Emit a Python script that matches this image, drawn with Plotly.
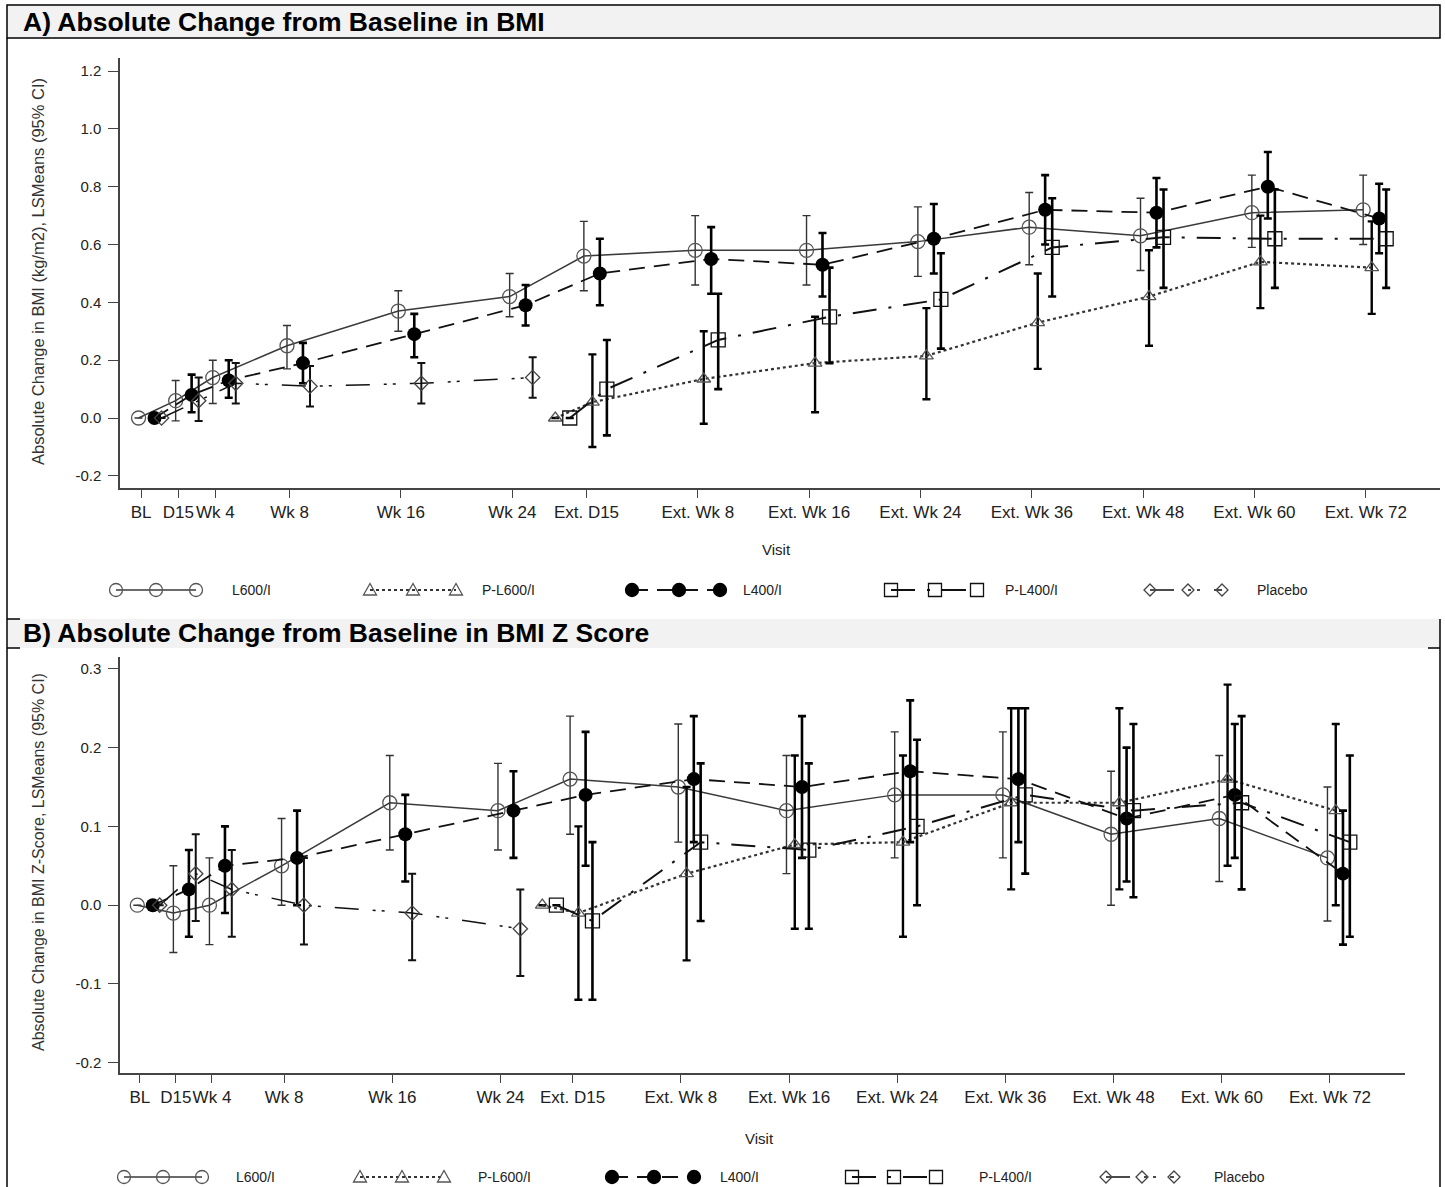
import plotly.graph_objects as go

W, H = 1445, 1187

# ---------------- data ----------------
visit_labels = ["BL", "D15", "Wk 4", "Wk 8", "Wk 16", "Wk 24", "Ext. D15", "Ext. Wk 8",
                "Ext. Wk 16", "Ext. Wk 24", "Ext. Wk 36", "Ext. Wk 48", "Ext. Wk 60", "Ext. Wk 72"]
visit_pos = [0, 1, 2, 4, 7, 10, 12, 15, 18, 21, 24, 27, 30, 33]
placebo_pos = visit_pos[:6]
p_bl_pos = 11                      # extension baseline of the P- groups (no tick label)
p_pos = [p_bl_pos] + visit_pos[6:]

groups = ["L600/I", "P-L600/I", "L400/I", "P-L400/I", "Placebo"]

# Panel A: absolute change in BMI
a_l600_mean = [0, 0.06, 0.14, 0.25, 0.37, 0.42, 0.56, 0.58, 0.58, 0.61, 0.66, 0.63, 0.71, 0.72]
a_l600_up   = [None, 0.13, 0.20, 0.32, 0.44, 0.50, 0.68, 0.70, 0.70, 0.73, 0.78, 0.76, 0.84, 0.84]
a_l600_lo   = [None, -0.01, 0.05, 0.17, 0.30, 0.35, 0.44, 0.46, 0.46, 0.49, 0.53, 0.51, 0.59, 0.60]

a_l400_mean = [0, 0.08, 0.13, 0.19, 0.29, 0.39, 0.50, 0.55, 0.53, 0.62, 0.72, 0.71, 0.80, 0.69]
a_l400_up   = [None, 0.15, 0.20, 0.26, 0.36, 0.46, 0.62, 0.66, 0.64, 0.74, 0.84, 0.83, 0.92, 0.81]
a_l400_lo   = [None, 0.02, 0.07, 0.12, 0.21, 0.32, 0.39, 0.43, 0.42, 0.50, 0.60, 0.59, 0.69, 0.57]

a_plac_mean = [0, 0.06, 0.12, 0.11, 0.12, 0.14]
a_plac_up   = [None, 0.14, 0.19, 0.18, 0.19, 0.21]
a_plac_lo   = [None, -0.01, 0.05, 0.04, 0.05, 0.07]

a_pl600_mean = [0, 0.055, 0.135, 0.19, 0.215, 0.33, 0.42, 0.54, 0.52]
a_pl600_up   = [None, 0.22, 0.30, 0.35, 0.38, 0.50, 0.58, 0.70, 0.68]
a_pl600_lo   = [None, -0.10, -0.02, 0.02, 0.065, 0.17, 0.25, 0.38, 0.36]

a_pl400_mean = [0, 0.10, 0.27, 0.35, 0.41, 0.59, 0.625, 0.62, 0.62]
a_pl400_up   = [None, 0.27, 0.43, 0.52, 0.57, 0.76, 0.79, 0.79, 0.79]
a_pl400_lo   = [None, -0.06, 0.10, 0.19, 0.24, 0.42, 0.45, 0.45, 0.45]

# Panel B: absolute change in BMI Z score
b_l600_mean = [0, -0.01, 0.0, 0.05, 0.13, 0.12, 0.16, 0.15, 0.12, 0.14, 0.14, 0.09, 0.11, 0.06]
b_l600_up   = [None, 0.05, 0.06, 0.11, 0.19, 0.18, 0.24, 0.23, 0.19, 0.22, 0.22, 0.17, 0.19, 0.15]
b_l600_lo   = [None, -0.06, -0.05, 0.0, 0.07, 0.07, 0.09, 0.08, 0.04, 0.06, 0.06, 0.0, 0.03, -0.02]

b_l400_mean = [0, 0.02, 0.05, 0.06, 0.09, 0.12, 0.14, 0.16, 0.15, 0.17, 0.16, 0.11, 0.14, 0.04]
b_l400_up   = [None, 0.07, 0.10, 0.12, 0.14, 0.17, 0.22, 0.24, 0.24, 0.26, 0.25, 0.20, 0.23, 0.12]
b_l400_lo   = [None, -0.04, -0.01, 0.0, 0.03, 0.06, 0.05, 0.08, 0.06, 0.08, 0.08, 0.03, 0.06, -0.05]

b_plac_mean = [0, 0.04, 0.02, 0.0, -0.01, -0.03]
b_plac_up   = [None, 0.09, 0.07, 0.06, 0.04, 0.02]
b_plac_lo   = [None, -0.02, -0.04, -0.05, -0.07, -0.09]

b_pl600_mean = [0, -0.01, 0.04, 0.077, 0.08, 0.13, 0.13, 0.16, 0.12]
b_pl600_up   = [None, 0.10, 0.15, 0.19, 0.19, 0.25, 0.25, 0.28, 0.23]
b_pl600_lo   = [None, -0.12, -0.07, -0.03, -0.04, 0.02, 0.02, 0.05, 0.0]

b_pl400_mean = [0, -0.02, 0.08, 0.07, 0.10, 0.14, 0.12, 0.13, 0.08]
b_pl400_up   = [None, 0.08, 0.18, 0.18, 0.21, 0.25, 0.23, 0.24, 0.19]
b_pl400_lo   = [None, -0.12, -0.02, -0.03, 0.0, 0.04, 0.01, 0.02, -0.04]

a_yticks = [-0.2, 0.0, 0.2, 0.4, 0.6, 0.8, 1.0, 1.2]
a_ytick_labels = ["-0.2", "0.0", "0.2", "0.4", "0.6", "0.8", "1.0", "1.2"]
b_yticks = [-0.2, -0.1, 0.0, 0.1, 0.2, 0.3]
b_ytick_labels = ["-0.2", "-0.1", "0.0", "0.1", "0.2", "0.3"]

# ---------------- styles ----------------
dodge = {"L600/I": -0.07, "P-L600/I": 0.16, "L400/I": 0.36, "P-L400/I": 0.55, "Placebo": 0.55}
style = {
    "L600/I":   dict(line=dict(color="#3a3a3a", width=1.5, dash="solid"),
                     marker=dict(symbol="circle-open", size=14, color="#555", line=dict(width=1.3, color="#555")),
                     err=dict(color="#333", thickness=1.4)),
    "P-L600/I": dict(line=dict(color="#333", width=2.2, dash="dot"),
                     marker=dict(symbol="triangle-up-open", size=12, color="#555", line=dict(width=1.3, color="#555")),
                     err=dict(color="#000", thickness=2.4)),
    "L400/I":   dict(line=dict(color="#111", width=1.8, dash="16px,9px"),
                     marker=dict(symbol="circle", size=14, color="#000", line=dict(width=0, color="#000")),
                     err=dict(color="#000", thickness=2.6)),
    "P-L400/I": dict(line=dict(color="#111", width=2.0, dash="24px,12px,3px,12px"),
                     marker=dict(symbol="square-open", size=14, color="#111", line=dict(width=1.3, color="#111")),
                     err=dict(color="#000", thickness=2.6)),
    "Placebo":  dict(line=dict(color="#111", width=1.5, dash="24px,14px,3px,6px,3px,14px"),
                     marker=dict(symbol="diamond-open", size=11, color="#444", line=dict(width=1.3, color="#444")),
                     err=dict(color="#111", thickness=2.0)),
}

panel_a = {
    "L600/I": (visit_pos, a_l600_mean, a_l600_up, a_l600_lo),
    "P-L600/I": (p_pos, a_pl600_mean, a_pl600_up, a_pl600_lo),
    "L400/I": (visit_pos, a_l400_mean, a_l400_up, a_l400_lo),
    "P-L400/I": (p_pos, a_pl400_mean, a_pl400_up, a_pl400_lo),
    "Placebo": (placebo_pos, a_plac_mean, a_plac_up, a_plac_lo),
}
panel_b = {
    "L600/I": (visit_pos, b_l600_mean, b_l600_up, b_l600_lo),
    "P-L600/I": (p_pos, b_pl600_mean, b_pl600_up, b_pl600_lo),
    "L400/I": (visit_pos, b_l400_mean, b_l400_up, b_l400_lo),
    "P-L400/I": (p_pos, b_pl400_mean, b_pl400_up, b_pl400_lo),
    "Placebo": (placebo_pos, b_plac_mean, b_plac_up, b_plac_lo),
}

FONT = "Arial, Liberation Sans, sans-serif"


def err_arrays(mean, up, lo):
    plus = [(u - m) if u is not None else float("nan") for m, u in zip(mean, up)]
    minus = [(m - l) if l is not None else float("nan") for m, l in zip(mean, lo)]
    return plus, minus


fig = go.Figure()
for panel, xa, ya in ((panel_a, "x", "y"), (panel_b, "x2", "y2")):
    for g in groups:
        pos, mean, up, lo = panel[g]
        plus, minus = err_arrays(mean, up, lo)
        st = style[g]
        fig.add_trace(go.Scatter(
            x=[p + dodge[g] for p in pos], y=mean, name=g, mode="lines+markers",
            line=st["line"], marker=st["marker"], xaxis=xa, yaxis=ya, showlegend=False,
            error_y=dict(type="data", symmetric=False, array=plus, arrayminus=minus,
                         color=st["err"]["color"], thickness=st["err"]["thickness"], width=4),
        ))


def px(x):
    return x / W


def py(y):
    return 1 - y / H


axis_common = dict(showgrid=False, zeroline=False, showline=True, linecolor="#444", linewidth=1.5,
                   ticks="outside", tickcolor="#444", tickwidth=1.3)
xfont = dict(family=FONT, size=17, color="#222")
yfont = dict(family=FONT, size=15, color="#222")

fig.update_layout(
    width=W, height=H, autosize=False,
    margin=dict(l=0, r=0, t=0, b=0),
    paper_bgcolor="white", plot_bgcolor="white",
    font=dict(family=FONT, color="#222"),
    showlegend=False,
    xaxis=dict(domain=[px(120), px(1440)], range=[-0.57, 35.0], anchor="y", tickangle=0, ticklen=8,
               tickvals=visit_pos, ticktext=visit_labels, tickfont=xfont, **axis_common),
    yaxis=dict(domain=[py(488), py(58)], range=[-0.242, 1.245], anchor="x", ticklen=10,
               tickvals=a_yticks, ticktext=a_ytick_labels, tickfont=yfont, ticklabelstandoff=4, **axis_common),
    xaxis2=dict(domain=[px(120), px(1405)], range=[-0.55, 35.08], anchor="y2", tickangle=0, ticklen=8,
                tickvals=visit_pos, ticktext=visit_labels, tickfont=xfont, **axis_common),
    yaxis2=dict(domain=[py(1073), py(657)], range=[-0.213, 0.315], anchor="x2", ticklen=10,
                tickvals=b_yticks, ticktext=b_ytick_labels, tickfont=yfont, ticklabelstandoff=4, **axis_common),
)

# ---------------- frame / headers ----------------
shapes = [
    dict(type="rect", xref="paper", yref="paper", x0=px(7), x1=px(1440), y0=py(38), y1=py(5),
         fillcolor="#f2f2f2", line=dict(color="black", width=1.5), layer="below"),
    dict(type="line", xref="paper", yref="paper", x0=px(7), x1=px(7), y0=py(38), y1=py(1187),
         line=dict(color="black", width=1.5)),
    dict(type="rect", xref="paper", yref="paper", x0=px(8), x1=px(1440), y0=py(648), y1=py(619),
         fillcolor="#f2f2f2", line=dict(width=0), layer="below"),
    dict(type="line", xref="paper", yref="paper", x0=px(7), x1=px(20), y0=py(619), y1=py(619),
         line=dict(color="black", width=1.5)),
    dict(type="line", xref="paper", yref="paper", x0=px(7), x1=px(20), y0=py(648), y1=py(648),
         line=dict(color="black", width=1.5)),
    dict(type="line", xref="paper", yref="paper", x0=px(1428), x1=px(1440), y0=py(648), y1=py(648),
         line=dict(color="black", width=1.5)),
    dict(type="line", xref="paper", yref="paper", x0=px(1440), x1=px(1440), y0=py(619), y1=py(1187),
         line=dict(color="black", width=1.5)),
]

# ---------------- hand-drawn legends (three symbols per key, like the original) ----------------
legend_rows = {
    590: {"L600/I": ([116, 156, 196], 230), "P-L600/I": ([370, 413, 456], 480),
          "L400/I": ([632, 679, 720], 741), "P-L400/I": ([891, 935, 977], 1003),
          "Placebo": ([1150, 1188, 1222], 1255)},
    1177: {"L600/I": ([124, 163, 202], 234), "P-L600/I": ([360, 402, 444], 476),
           "L400/I": ([612, 654, 694], 718), "P-L400/I": ([852, 894, 936], 977),
           "Placebo": ([1106, 1142, 1174], 1212)},
}


def marker_shape(g, x, y):
    m = style[g]["marker"]
    col = m["line"]["color"]
    sym = m["symbol"]
    ln = dict(color=col, width=1.3)
    if sym.startswith("circle"):
        r = 6.5
        return dict(type="circle", xref="paper", yref="paper", x0=px(x - r), x1=px(x + r),
                    y0=py(y + r), y1=py(y - r), line=ln,
                    fillcolor=("black" if sym == "circle" else "rgba(0,0,0,0)"))
    if sym.startswith("square"):
        r = 6.5
        return dict(type="rect", xref="paper", yref="paper", x0=px(x - r), x1=px(x + r),
                    y0=py(y + r), y1=py(y - r), line=ln, fillcolor="rgba(0,0,0,0)")
    if sym.startswith("triangle"):
        pts = [(x, y - 6.5), (x + 6.5, y + 5), (x - 6.5, y + 5)]
    else:
        pts = [(x, y - 6), (x + 6, y), (x, y + 6), (x - 6, y)]
    path = "M " + " L ".join(f"{px(a):.6f},{py(b):.6f}" for a, b in pts) + " Z"
    return dict(type="path", xref="paper", yref="paper", path=path, line=ln, fillcolor="rgba(0,0,0,0)")


annotations = []
for ly, row in legend_rows.items():
    for g in groups:
        xs, tx = row[g]
        lst = style[g]["line"]
        shapes.append(dict(type="line", xref="paper", yref="paper", x0=px(xs[0]), x1=px(xs[-1]),
                           y0=py(ly), y1=py(ly),
                           line=dict(color=lst["color"], width=min(lst["width"], 1.8), dash=lst["dash"])))
        for xx in xs:
            shapes.append(marker_shape(g, xx, ly))
        annotations.append(dict(text=g, x=px(tx), y=py(ly), xref="paper", yref="paper", xanchor="left",
                                yanchor="middle", showarrow=False, font=dict(family=FONT, size=14, color="#222")))

fig.update_layout(shapes=shapes)

annotations += [
    dict(text="<b>A) Absolute Change from Baseline in BMI</b>", x=px(21), y=py(22), xref="paper", yref="paper",
         xanchor="left", yanchor="middle", showarrow=False, font=dict(family=FONT, size=26.5, color="black")),
    dict(text="<b>B) Absolute Change from Baseline in BMI Z Score</b>", x=px(21), y=py(633), xref="paper",
         yref="paper", xanchor="left", yanchor="middle", showarrow=False,
         font=dict(family=FONT, size=26.5, color="black")),
    dict(text="Absolute Change in BMI (kg/m2), LSMeans (95% CI)", x=px(38), y=py(272), xref="paper", yref="paper",
         textangle=-90, xanchor="center", yanchor="middle", showarrow=False,
         font=dict(family=FONT, size=16.5, color="#333")),
    dict(text="Absolute Change in BMI Z-Score, LSMeans (95% CI)", x=px(38), y=py(862), xref="paper", yref="paper",
         textangle=-90, xanchor="center", yanchor="middle", showarrow=False,
         font=dict(family=FONT, size=16, color="#333")),
    dict(text="Visit", x=px(776), y=py(550), xref="paper", yref="paper", xanchor="center", yanchor="middle",
         showarrow=False, font=dict(family=FONT, size=15, color="#222")),
    dict(text="Visit", x=px(760), y=py(1138), xref="paper", yref="paper", xanchor="center", yanchor="middle",
         showarrow=False, font=dict(family=FONT, size=15, color="#222")),
]
fig.update_layout(annotations=annotations)

post = ("document.documentElement.style.margin='0';document.body.style.margin='0';"
        "document.body.style.overflow='hidden';"
        "var gd=document.getElementById('{plot_id}');gd.style.position='fixed';"
        "gd.style.left='0px';gd.style.top='0px';")
fig.write_html("out.html", config={"displayModeBar": False}, post_script=post)
